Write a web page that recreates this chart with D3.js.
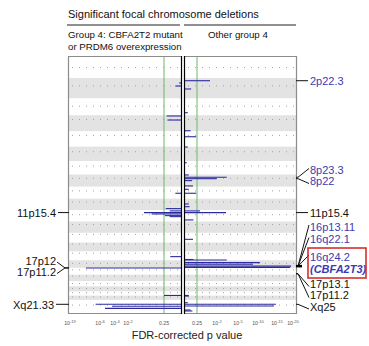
<!DOCTYPE html>
<html><head><meta charset="utf-8">
<script src="https://cdn.jsdelivr.net/npm/d3@7"></script>
<style>
body{margin:0;background:#fff}
text{font-family:"Liberation Sans",Arial,sans-serif}
</style>
</head><body>
<svg id="c" width="369" height="346"></svg>
<script>
// ---------------- DATA ----------------
const chromosomes = ["1","2","3","4","5","6","7","8","9","10","11","12","13","14","15","16","17","18","19","20","21","22","X"];
const chromLengthsMb = [249,243,198,191,181,171,159,146,141,136,135,134,115,107,103,90,81,78,59,63,48,51,155];
const centromeresMb = [125,93,91,50,48,61,60,46,49,40,54,36,18,18,19,37,24,17,27,28,13,15,61];

// -log10(FDR q) per segment: [chromosome, position (Mb), score]
const leftGroupBars = [
  ["2",59,0.07],["2",95,0.2],["4",9,0.51],["4",57,0.48],["9",77,0.2],
  ["10",118,0.54],["11",9,0.4],["11",29,1.38],["11",45,1.08],["11",65,0.57],["11",77,0.4],
  ["15",60,0.38],["17",1,12.1],["21",46,0.6],["X",52,7.9],["X",75,4.4],["X",100,5.33]
];
const rightGroupBars = [
  ["2",32,1.51],["2",130,0.31],["3",168,0.14],["4",184,0.28],["5",64,0.56],["6",5,0.14],
  ["7",20,0.09],["8",6,0.19],["8",33,3.39],["8",50,1.98],["8",73,0.36],["8",136,0.4],
  ["9",30,0.19],["9",77,0.56],["10",63,0.19],["10",95,0.23],["11",9,0.81],["11",29,3.29],
  ["11",116,0.42],["13",77,0.4],["15",94,0.42],["15",99,3.39],["16",28,10.5],["16",47,8.75],
  ["16",70,19.4],["16",86,19.1],["21",46,0.19],["22",5,0.19],["X",33,0.14],["X",52,14.7],
  ["X",72,14.2],["X",119,0.28],["X",131,0.37]
];

// axis ticks (score = -log10 q) and labels
const leftTickScores = [19,6,4,2,0.602];
const leftTickLabels = ["-19","-6","-4","-2","0.25"];
const rightTickScores = [0.602,2,5,10,15,20];
const rightTickLabels = ["0.25","-2","-5","-10","-15","-20"];
const qThreshold = 0.602; // q = 0.25

// peak annotations
const leftPeakNames = ["11p15.4","17p12","17p11.2","Xq21.33"];
const leftPeakChrom = ["11","17","17","X"];
const leftPeakPos = [29,1,1,52];
const rightPeakNames = ["2p22.3","8p23.3","8p22","11p15.4","16p13.11","16q22.1","16q24.2","17p13.1","17p11.2","Xq25"];
const rightPeakChrom = ["2","8","8","11","16","16","16","17","17","X"];
const rightPeakPos = [32,33,50,29,70,70,70,70,70,52];
const rightPeakBlue = [true,true,true,false,true,true,true,false,false,false];

// ---------------- LAYOUT ----------------
const svg = d3.select("#c");
const plotTop = 57, plotBottom = 313;
const L = {x0:69, x1:181}, R = {x0:185, x1:296};
const blue = "#2a2a9e", labelBlue = "#3b3bb0";

const starts = [0, ...d3.cumsum(chromLengthsMb)];
const total = starts[starts.length-1];
const y = d3.scaleLinear().domain([0,total]).range([plotTop,plotBottom]);
const gpos = (c,p) => starts[chromosomes.indexOf(c)] + p;

const xL = d3.scaleLinear().domain([0,0.602,2,4,6,19]).range([181,164,128,115,100,70]).clamp(true);
const xR = d3.scaleLinear().domain([0,0.602,2,5,10,15,20]).range([185,197,217,238,258,277,293]).clamp(true);

// title
svg.append("text").attr("x",68).attr("y",18).attr("font-size",11).attr("fill","#111")
  .text("Significant focal chromosome deletions");
svg.append("line").attr("x1",67).attr("x2",180).attr("y1",25).attr("y2",25).attr("stroke","#222").attr("stroke-width",1.2);
svg.append("line").attr("x1",184).attr("x2",296).attr("y1",25).attr("y2",25).attr("stroke","#222").attr("stroke-width",1.2);
svg.append("text").attr("x",68).attr("y",37.5).attr("font-size",9.7).attr("fill","#111").text("Group 4: CBFA2T2 mutant");
svg.append("text").attr("x",68).attr("y",50).attr("font-size",9.7).attr("fill","#111").text("or PRDM6 overexpression");
svg.append("text").attr("x",208).attr("y",37.5).attr("font-size",9.7).attr("fill","#111").text("Other group 4");

function panel(P, xs, bars, clipId, outerLeft){
  const g = svg.append("g");
  svg.append("clipPath").attr("id",clipId).append("rect")
    .attr("x",P.x0).attr("y",plotTop).attr("width",P.x1-P.x0).attr("height",plotBottom-plotTop);
  const gc = g.append("g").attr("clip-path",`url(#${clipId})`);
  gc.selectAll("rect.band").data(chromosomes).join("rect")
    .attr("x",P.x0).attr("width",P.x1-P.x0)
    .attr("y",(d,i)=>y(starts[i])).attr("height",(d,i)=>y(starts[i+1])-y(starts[i]))
    .attr("fill",(d,i)=> i%2 ? "#e3e3e3" : "#ffffff");
  gc.selectAll("line.cen").data(chromosomes).join("line")
    .attr("x1",P.x0+3).attr("x2",P.x1)
    .attr("y1",(d,i)=>y(starts[i]+centromeresMb[i])).attr("y2",(d,i)=>y(starts[i]+centromeresMb[i]))
    .attr("stroke","#a0a0a0").attr("stroke-width",1).attr("stroke-dasharray","1,6");
  gc.append("line").attr("x1",xs(qThreshold)).attr("x2",xs(qThreshold)).attr("y1",plotTop).attr("y2",plotBottom)
    .attr("stroke","#6cb86c").attr("stroke-width",1);
  gc.selectAll("line.bar").data(bars).join("line")
    .attr("x1",xs(0)).attr("x2",d=>xs(d[2]))
    .attr("y1",d=>y(gpos(d[0],d[1]))).attr("y2",d=>y(gpos(d[0],d[1])))
    .attr("stroke",blue).attr("stroke-width",1.1);
  // outer border (three sides), inner side is the black zero line
  const xo = outerLeft ? P.x0-0.5 : P.x1+0.5;
  const xi = outerLeft ? P.x1+0.5 : P.x0-0.5;
  g.append("path")
    .attr("d",`M${xi},${plotTop-0.5}H${xo}V${plotBottom+0.5}H${xi}`)
    .attr("fill","none").attr("stroke","#8c8c8c").attr("stroke-width",1.2);
  g.append("line").attr("x1",xi).attr("x2",xi).attr("y1",plotTop-1).attr("y2",plotBottom+1)
    .attr("stroke","#000").attr("stroke-width",1.2);
}
panel(L,xL,leftGroupBars,"clipL",true);
panel(R,xR,rightGroupBars,"clipR",false);

function ticks(xs, scores, labels){
  scores.forEach((s,i)=>{
    const t = svg.append("text").attr("x",xs(s)).attr("y",325).attr("text-anchor","middle")
      .attr("font-size",5.2).attr("fill","#555");
    if(labels[i]==="0.25"){ t.text("0.25"); }
    else { t.append("tspan").text("10"); t.append("tspan").attr("dy",-2).attr("font-size",4).text(labels[i]); }
  });
}
ticks(xL,leftTickScores,leftTickLabels);
ticks(xR,rightTickScores,rightTickLabels);
svg.append("text").attr("x",187).attr("y",339).attr("text-anchor","middle").attr("font-size",11).attr("fill","#222")
  .text("FDR-corrected p value");

const labelSize = 11;
const leftLabelY = [213,261,272.5,305];
const leftLabelAnchorX = [56,56,56,54];
leftPeakNames.forEach((n,i)=>{
  const ay = y(gpos(leftPeakChrom[i],leftPeakPos[i]));
  svg.append("text").attr("x",leftLabelAnchorX[i]).attr("y",leftLabelY[i]).attr("dy","0.35em")
    .attr("text-anchor","end").attr("font-size",labelSize).attr("fill","#111").text(n);
  if(i===1||i===2){
    svg.append("line").attr("x1",57).attr("y1",leftLabelY[i]+1).attr("x2",65).attr("y2",ay).attr("stroke","#111");
    svg.append("line").attr("x1",65).attr("y1",ay).attr("x2",69).attr("y2",ay).attr("stroke","#111");
  } else {
    svg.append("line").attr("x1",leftLabelAnchorX[i]+2).attr("x2",69).attr("y1",ay).attr("y2",ay).attr("stroke","#111");
  }
});

const rightLabelY = [81,170.5,181.5,213,227,239.5,257,284.5,295.5,307];
rightPeakNames.forEach((n,i)=>{
  const ay = y(gpos(rightPeakChrom[i],rightPeakPos[i]));
  svg.append("text").attr("x",310).attr("y",rightLabelY[i]).attr("dy","0.35em")
    .attr("font-size",labelSize).attr("fill",rightPeakBlue[i]?labelBlue:"#111").text(n);
  if(Math.abs(rightLabelY[i]-ay)<2.5){
    svg.append("line").attr("x1",296).attr("x2",308).attr("y1",ay).attr("y2",ay).attr("stroke","#111");
  } else {
    svg.append("line").attr("x1",298).attr("y1",ay).attr("x2",309).attr("y2",rightLabelY[i]+(rightLabelY[i]<ay?-2:2)).attr("stroke","#111");
    svg.append("line").attr("x1",296).attr("x2",298).attr("y1",ay).attr("y2",ay).attr("stroke","#111");
  }
});
svg.append("text").attr("x",310).attr("y",269.5).attr("dy","0.35em").attr("font-size",labelSize)
  .attr("font-weight","bold").attr("font-style","italic").attr("fill",labelBlue).text("(CBFA2T3)");
svg.append("rect").attr("x",308).attr("y",248).attr("width",58).attr("height",30)
  .attr("fill","none").attr("stroke","#d42020").attr("stroke-width",1.5);
svg.append("line").attr("x1",296).attr("x2",302).attr("y1",y(gpos("16",70))).attr("y2",y(gpos("16",70)))
  .attr("stroke","#000").attr("stroke-width",2.5);
</script>
</body></html>
